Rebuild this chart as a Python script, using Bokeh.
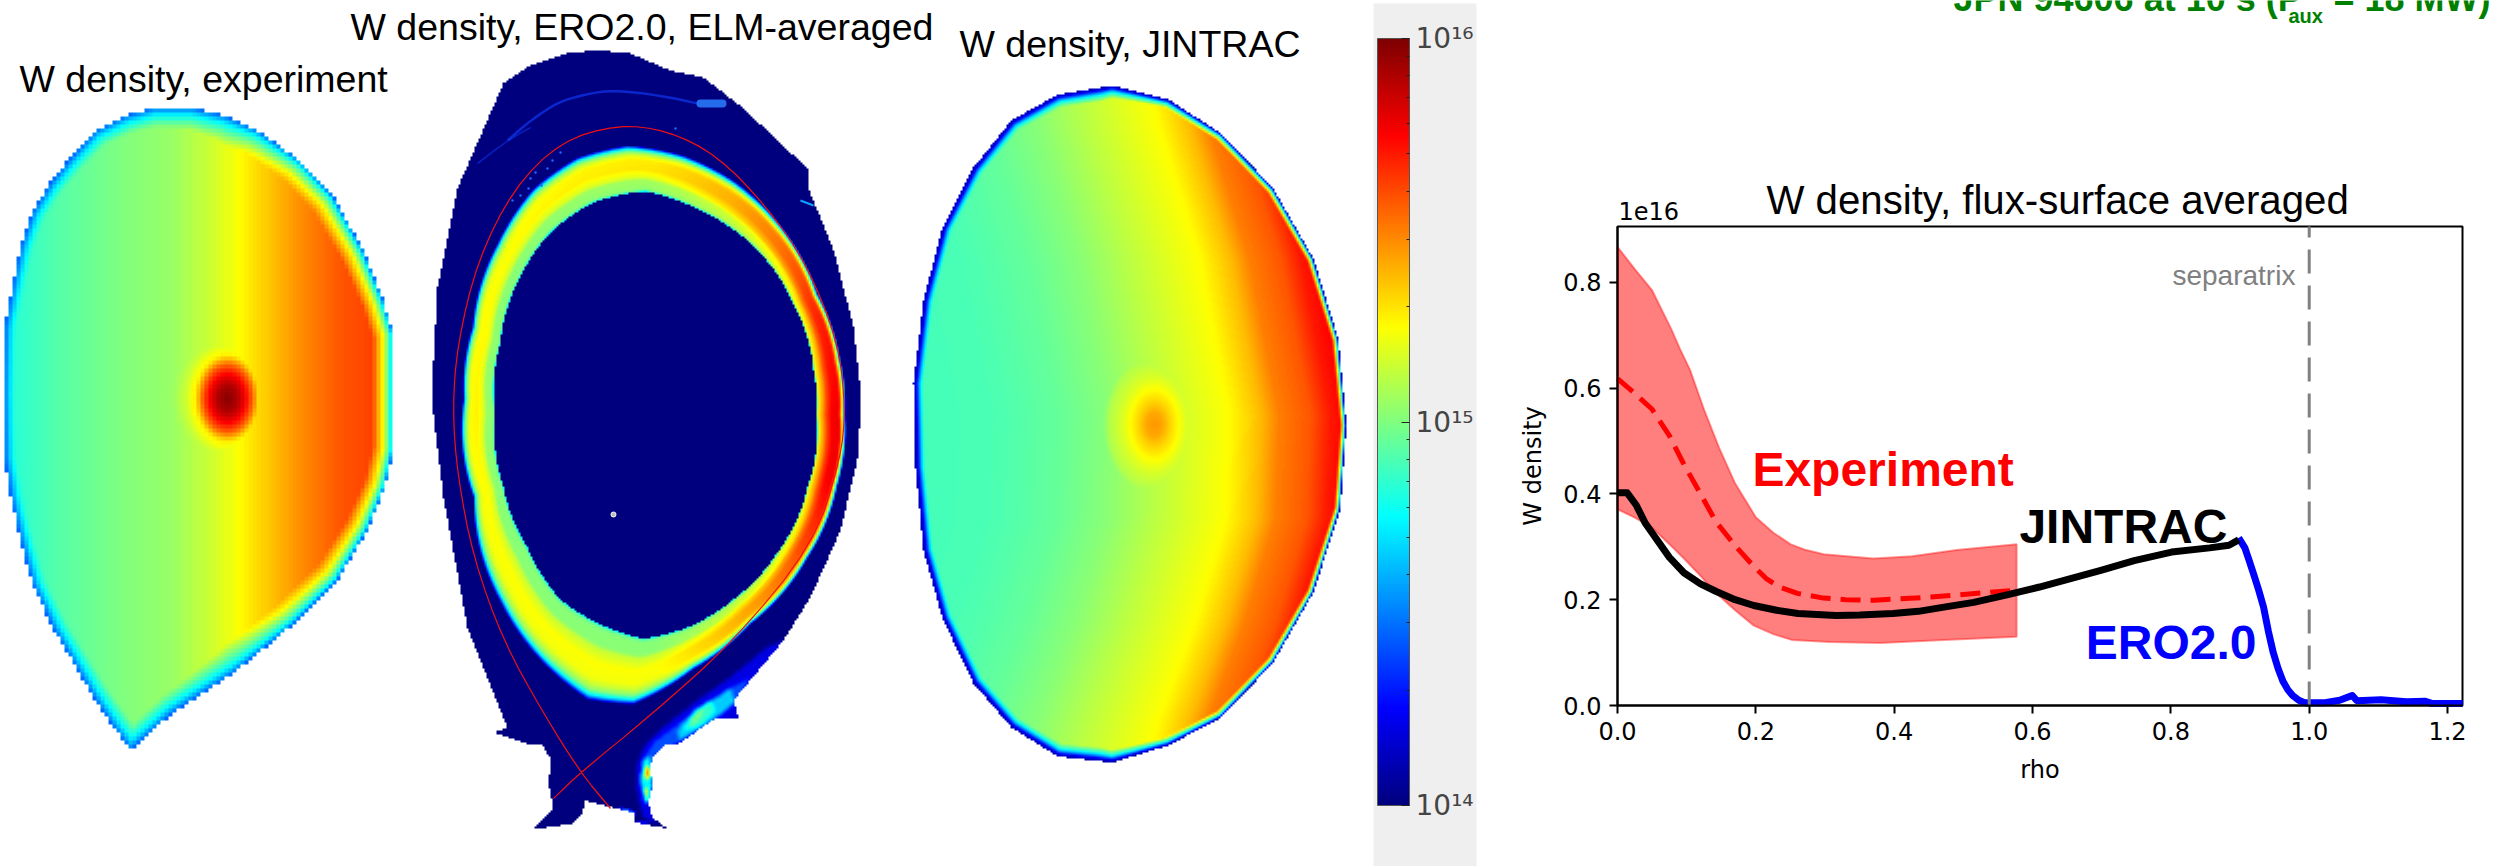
import numpy as np
from bokeh.embed import file_html
from bokeh.resources import INLINE
from bokeh.plotting import figure
from bokeh.layouts import row
from bokeh.core.properties import value
from bokeh.models import (Range1d, LinearColorMapper, LogColorMapper, ColorBar, FixedTicker,
                          NumeralTickFormatter)

# ---------- profile chart values (rho, density / 1e16) ----------
band_rho_up = [0.0, 0.025, 0.05, 0.078, 0.09, 0.105, 0.125, 0.147, 0.17, 0.2, 0.225, 0.25, 0.27, 0.298, 0.37, 0.426, 0.49, 0.577]
band_up = [0.867, 0.825, 0.785, 0.711, 0.675, 0.634, 0.56, 0.487, 0.42, 0.356, 0.327, 0.305, 0.295, 0.286, 0.278, 0.282, 0.294, 0.305]
band_rho_lo = [0.577, 0.472, 0.38, 0.307, 0.252, 0.225, 0.197, 0.17, 0.142, 0.12, 0.096, 0.075, 0.05, 0.025, 0.0]
band_lo = [0.13, 0.124, 0.118, 0.12, 0.124, 0.135, 0.151, 0.18, 0.213, 0.245, 0.278, 0.305, 0.336, 0.355, 0.371]
exp_rho = [0.0, 0.025, 0.05, 0.075, 0.096, 0.12, 0.142, 0.17, 0.197, 0.215, 0.234, 0.26, 0.298, 0.33, 0.371, 0.453, 0.577]
exp_mean = [0.618, 0.59, 0.56, 0.51, 0.456, 0.4, 0.348, 0.302, 0.263, 0.24, 0.224, 0.212, 0.203, 0.2, 0.199, 0.205, 0.218]
jin_rho = [0.0, 0.014, 0.027, 0.04, 0.055, 0.075, 0.096, 0.12, 0.142, 0.17, 0.197, 0.23, 0.261, 0.316, 0.35, 0.398, 0.435, 0.472, 0.515, 0.563, 0.61, 0.655, 0.70, 0.747, 0.801, 0.856, 0.884, 0.898]
jin_w = [0.402, 0.402, 0.379, 0.345, 0.317, 0.28, 0.251, 0.23, 0.216, 0.2, 0.189, 0.18, 0.174, 0.17, 0.171, 0.174, 0.178, 0.186, 0.195, 0.209, 0.224, 0.24, 0.256, 0.274, 0.29, 0.298, 0.303, 0.313]
ero_rho = [0.898, 0.907, 0.913, 0.92, 0.927, 0.934, 0.941, 0.948, 0.955, 0.962, 0.969, 0.976, 0.985, 0.994, 1.021, 1.044, 1.062, 1.069, 1.104, 1.14, 1.168, 1.177, 1.222]
ero_w = [0.317, 0.298, 0.275, 0.247, 0.218, 0.186, 0.14, 0.1, 0.07, 0.046, 0.03, 0.019, 0.01, 0.005, 0.005, 0.01, 0.019, 0.009, 0.011, 0.007, 0.008, 0.004, 0.004]
x_ticks = [0.0, 0.2, 0.4, 0.6, 0.8, 1.0, 1.2]
y_ticks = [0.0, 0.2, 0.4, 0.6, 0.8]

# ---------- colour scale ----------
jet_nodes = ["#00007f", "#0000ff", "#007fff", "#00ffff", "#7fff7f", "#ffff00", "#ff7f00", "#ff0000", "#7f0000"]
def hx(c): return [int(c[i:i+2], 16) for i in (1, 3, 5)]
_j = np.array([hx(c) for c in jet_nodes], float)
_u = np.linspace(0, 8, 256)
JET = ["#%02x%02x%02x" % tuple(int(round(np.interp(u, np.arange(9), _j[:, k]))) for k in range(3)) for u in _u]
cb_major = [1e14, 1e15, 1e16]
cb_minor = [a * 10 ** e for e in (14, 15) for a in range(2, 10)]

# ---------- experiment cross-section (picture px, log10 density) ----------
exp_outline = [(130,750),(113,727),(93,697),(73,663),(53,629),(32,584),(20,540),(10,496),(4,457),(3,393),(4,327),(12,285),(20,246),(32,211),(50,182),(70,157),(95,130),(125,115),(153,107),(192,107),(225,115),(258,130),(300,160),(333,196),(363,250),(383,300),(393,334),(393,449),(385,486),(367,530),(337,580),(293,624),(233,673),(173,712)]
exp_x = [0, 60, 120, 170, 210, 240, 260, 300, 340, 370, 395]
exp_v = [14.8, 14.92, 15.0, 15.05, 15.15, 15.25, 15.33, 15.47, 15.58, 15.62, 15.6]
exp_spot = (227, 398)
exp_spot_r = [0, 10, 18, 25, 32, 42, 55, 70]
exp_spot_v = [15.98, 15.9, 15.75, 15.55, 15.28, 15.15, 15.05, 14.95]
exp_edge_d = [0, 4, 8, 16, 30, 50, 70, 90]
exp_edge_v = [14.45, 14.6, 14.75, 14.95, 15.25, 15.5, 15.8, 16.0]

# ---------- JINTRAC cross-section ----------
jin_outline = [(1112,85),(1168,99),(1221,133),(1273,188),(1313,258),(1338,339),(1346,425),(1340,508),(1313,592),(1273,662),(1221,717),(1168,745),(1112,762),(1057,756),(1011,727),(973,683),(942,618),(923,550),(915,467),(913,383),(923,300),(942,227),(973,167),(1011,120),(1057,94)]
jin_x = [915, 1000, 1060, 1110, 1160, 1229, 1260, 1279, 1310, 1330, 1346, 1440]
jin_v = [14.88, 14.9, 14.95, 15.02, 15.12, 15.25, 15.38, 15.5, 15.58, 15.7, 15.75, 15.78]
jin_bow_y = [85, 128, 258, 415, 519, 623, 717, 762]
jin_bow = [80, 70, 30, 0, 4, 35, 70, 82]
jin_spot = (1154, 424)
jin_spot_r = [0, 8, 16, 24, 32, 45, 60]
jin_spot_v = [15.45, 15.42, 15.33, 15.25, 15.18, 15.1, 14.9]
jin_edge_d = [0, 3, 6, 9, 12, 16, 22, 30]
jin_edge_v = [14.08, 14.25, 14.6, 14.85, 15.0, 15.3, 15.6, 15.85]

# ---------- ERO2.0 cross-section ----------
ero_center = (655, 412)
ero_wall = [(503,83),(530,65),(570,52),(600,50),(630,53),(670,70),(703,77),(743,108),(807,168),(808,188),(833,249),(853,326),(861,398),(857,459),(840,530),(810,597),(783,640),(733,700),(738,717),(715,718),(677,744),(665,745),(652,757),(649,770),(653,782),(648,803),(652,817),(667,828),(635,822),(635,813),(585,800),(582,812),(573,823),(533,829),(553,809),(548,782),(551,760),(542,745),(527,743),(494,732),(507,727),(467,627),(443,497),(431,398),(437,287),(457,188)]
ero_hole = [(645,191),(700,210),(750,243),(793,304),(813,370),(816,414),(807,486),(777,552),(733,599),(687,627),(643,638),(600,624),(560,599),(527,547),(503,486),(495,414),(500,343),(520,276),(550,232),(593,202)]
ero_ring = [(627,145),(683,155),(733,180),(777,221),(817,293),(840,359),(845,414),(837,486),(807,558),(750,624),(693,669),(633,704),(587,699),(543,663),(500,602),(473,497),(463,398),(472,326),(497,243),(533,188),(577,157)]
ring_t = [0, .03, .08, .26, .32, .5, .7, .78, .86, .93, .97, 1.0]
ring_cold = [14.7, 14.95, 15.0, 15.0, 15.12, 15.22, 15.2, 15.12, 15.0, 14.72, 14.4, 14.05]
ring_hot = [14.8, 15.1, 15.3, 15.5, 15.6, 15.75, 15.78, 15.72, 15.3, 14.85, 14.5, 14.1]
ring_ang = [-180, -135, -90, -70, -50, -30, 0, 20, 40, 60, 90, 120, 150, 180]
ring_w = [.1, .05, .15, .35, .6, .85, 1, 1, .75, .45, .05, .05, .05, .1]
sep_line = [(553,798),(580,772),(650,715),(733,641),(813,544),(840,459),(845,409),(838,343),(807,265),(767,207),(717,155),(667,130),(617,124),(560,141),(513,188),(477,260),(457,343),(452,409),(457,475),(473,558),(503,641),(543,713),(580,772),(610,808)]
# divertor-leg layers, (log10 density, outline read on a 3x crop whose corner is at px (620, 640))
leg_layers = [
    (14.2, [(490,0),(440,20),(330,110),(230,180),(140,250),(75,310),(50,370),(45,430),(60,500),(70,530),(110,550),(110,320),(300,250),(360,230),(360,170),(500,0)]),
    (14.4, [(330,140),(240,200),(160,260),(100,305),(70,350),(60,420),(70,490),(90,480),(100,350),(170,312),(285,235),(345,190),(390,110)]),
    (14.65, [(330,140),(300,165),(225,205),(170,270),(180,300),(285,235),(345,185)]),
    (14.85, [(270,180),(215,225),(190,270),(240,255),(285,210)]),
    (15.0, [(250,200),(215,235),(205,255),(240,235)]),
    (14.75, [(68,360),(92,345),(90,420),(95,430),(85,490),(72,470),(60,420)]),
    (15.25, [(75,380),(88,375),(92,420),(75,415)]),
    (15.25, [(72,445),(85,440),(85,490),(78,480)]),
    (15.7, [(80,390),(90,390),(90,410),(84,410)]),
    (14.6, [(48,543),(80,545),(85,552),(50,552)]),
    (15.2, [(0,505),(45,518),(45,522),(0,512)]),
]
wisp = [(507,140),(530,120),(557,102),(580,95),(607,90),(637,92),(670,97),(697,103)]
wisp_low = [(477,163),(507,140),(530,127)]
wisp_hot = [(700,103),(722,103)]
wisp_right = [(800,200),(813,205)]
speck_x = [530, 535, 541, 547, 528, 520, 512, 552, 560, 675]
speck_y = [178, 172, 185, 168, 188, 195, 200, 160, 152, 128]
dot = (613, 514)

# ---------- helpers ----------
H = 866
def mesh(x0, x1, y0, y1, step):
    xs = np.arange(x0 + step / 2, x1, step)
    ys = np.arange(y0 + step / 2, y1, step)
    return np.meshgrid(xs, ys)
def inside(X, Y, poly):
    P = np.array(poly, float)
    Q = np.roll(P, -1, axis=0)
    res = np.zeros(X.shape, bool)
    for (a, b), (c, d) in zip(P, Q):
        if b == d:
            continue
        cond = ((b > Y) != (d > Y)) & (X < (c - a) * (Y - b) / (d - b) + a)
        res ^= cond
    return res
def edge_dist(X, Y, poly):
    P = np.array(poly, float)
    Q = np.roll(P, -1, axis=0)
    best = np.full(X.shape, 1e9)
    for (a, b), (c, d) in zip(P, Q):
        ex, ey = c - a, d - b
        t = np.clip(((X - a) * ex + (Y - b) * ey) / (ex * ex + ey * ey), 0, 1)
        best = np.minimum(best, np.hypot(X - a - t * ex, Y - b - t * ey))
    return best
def radial(poly, th):
    P = np.array(poly, float)
    a = np.arctan2(P[:, 1] - ero_center[1], P[:, 0] - ero_center[0])
    r = np.hypot(P[:, 0] - ero_center[0], P[:, 1] - ero_center[1])
    o = np.argsort(a)
    return np.interp(th, a[o], r[o], period=2 * np.pi)
def blur(A, n):
    k = np.ones(n) / n
    A = np.apply_along_axis(lambda m: np.convolve(m, k, mode="same"), 0, A)
    return np.apply_along_axis(lambda m: np.convolve(m, k, mode="same"), 1, A)
def rounded(pts, passes=2):
    # corner rounding of a hand-read outline, for display
    P = np.array(pts, float)
    for _ in range(passes):
        Q = 0.75 * P[:-1] + 0.25 * P[1:]
        R = 0.25 * P[:-1] + 0.75 * P[1:]
        M = np.empty((2 * len(Q), 2))
        M[0::2], M[1::2] = Q, R
        P = np.vstack([P[:1], M, P[-1:]])
    return P

# ---------- fields ----------
def field_exp():
    X, Y = mesh(0, 400, 100, 756, 4)
    v = np.interp(X, exp_x, exp_v)
    r = np.hypot(X - exp_spot[0], (Y - exp_spot[1]) / 1.35)
    v = np.maximum(v, np.interp(r, exp_spot_r, exp_spot_v, right=0))
    d = edge_dist(X, Y, exp_outline) * (1 + 2 * np.clip((X - 227) / 166, 0, 1))
    v = np.minimum(v, np.interp(d, exp_edge_d, exp_edge_v))
    v[~inside(X, Y, exp_outline)] = np.nan
    return v, (0, 400, 100, 756)
def field_jin():
    X, Y = mesh(906, 1352, 80, 768, 2)
    v = np.interp(X + np.interp(Y, jin_bow_y, jin_bow), jin_x, jin_v)
    r = np.hypot(X - jin_spot[0], (Y - jin_spot[1]) / 1.45)
    v = np.maximum(v, np.interp(r, jin_spot_r, jin_spot_v, right=0))
    d = edge_dist(X, Y, jin_outline) * (1 + 3 * np.clip((X - 1100) / 240, 0, 1))
    v = np.minimum(v, np.interp(d, jin_edge_d, jin_edge_v))
    v[~inside(X, Y, jin_outline)] = np.nan
    return v, (906, 1352, 80, 768)
def field_ero():
    box = (428, 864, 48, 832)
    X, Y = mesh(*box, 2)
    th = np.arctan2(Y - ero_center[1], X - ero_center[0])
    r = np.hypot(X - ero_center[0], Y - ero_center[1])
    rh, rr = radial(ero_hole, th), radial(ero_ring, th)
    t = (r - rh) / (rr - rh)
    w = np.interp(np.degrees(th), ring_ang, ring_w)
    v = (1 - w) * np.interp(t, ring_t, ring_cold) + w * np.interp(t, ring_t, ring_hot)
    v[(t < 0) | (t > 1)] = 14.0
    leg = np.full(X.shape, 14.0)
    for val, crop in leg_layers:
        poly = [(620 + a / 3, 640 + b / 3) for a, b in crop]
        leg[inside(X, Y, poly)] = val
    v = np.maximum(v, blur(leg, 3))
    v[~inside(X, Y, ero_wall)] = np.nan
    return v, box

# ---------- left figure: the panels ----------
left = figure(width=1500, height=H, x_range=Range1d(0, 1500), y_range=Range1d(0, H),
              toolbar_location=None, output_backend="svg", min_border=0)
left.frame_align = False
left.axis.visible = False
left.grid.visible = False
left.outline_line_color = None
mapper = LinearColorMapper(palette=JET, low=14, high=16, nan_color="#00000000")
left.quad(left=[1373], right=[1476], bottom=[0], top=[H - 3], color="#efefef", line_color=None)
for v, (x0, x1, y0, y1) in (field_exp(), field_ero(), field_jin()):
    left.image(image=[v[::-1]], x=x0, y=H - y1, dw=x1 - x0, dh=y1 - y0, color_mapper=mapper)
def line(pts, **kw):
    P = np.array(pts, float)
    left.line(P[:, 0], H - P[:, 1], **kw)
line(rounded(sep_line), line_color="#f01010", line_width=1.2)
line(rounded(wisp), line_color="#1040ff", line_width=2.5, line_alpha=0.6)
line(rounded(wisp_low), line_color="#1040ff", line_width=1.5, line_alpha=0.5)
line(wisp_hot, line_color="#2a7fff", line_width=8, line_alpha=0.85, line_cap="round")
line(wisp_right, line_color="#10a0ff", line_width=2)
left.scatter(speck_x, [H - y for y in speck_y], size=2.5, fill_color="#2060ff", line_color=None)
left.scatter([dot[0]], [H - dot[1]], size=5, fill_color="#bbbbbb", line_color="white", line_width=1)
panel_titles = ["W density, experiment", "W density, ERO2.0, ELM-averaged", "W density, JINTRAC"]
title_x = [19, 350, 959]
title_y = [78, 26, 43]
left.text(x=title_x, y=[H - y for y in title_y], text=panel_titles, text_font=value("Liberation Sans"),
          text_font_size=value("37.5px"), text_color="black", text_baseline="alphabetic")
log_mapper = LogColorMapper(palette=JET, low=1e14, high=1e16)
cb = ColorBar(color_mapper=log_mapper, location=(1377, H - 805), width=32, height=767, padding=0, margin=0,
              ticker=FixedTicker(ticks=cb_major, minor_ticks=cb_minor),
              major_label_overrides={1e14: "10\u00b9\u2074", 1e15: "10\u00b9\u2075", 1e16: "10\u00b9\u2076"},
              major_label_text_font="DejaVu Sans", major_label_text_font_size="28px", major_label_text_color="#444444",
              major_tick_in=8, minor_tick_in=3, major_tick_line_color="#222222", minor_tick_line_color="#222222",
              bar_line_color="#555555", bar_line_width=1, label_standoff=6, background_fill_alpha=0)
left.add_layout(cb, "center")

# ---------- right figure: flux-surface average ----------
# the frame fills the whole figure; the axes sit at rho = 0 and density = 0
XMAX, YMAX = 1.2216, 0.9055
U, V = XMAX / 845, YMAX / 479
PX0, PY0 = 1617, 705
right = figure(width=993, height=H, x_range=Range1d((1500 - PX0) * U, (2493 - PX0) * U),
               y_range=Range1d((PY0 - H) * V, PY0 * V),
               toolbar_location=None, output_backend="svg", min_border=0)
right.frame_align = False
right.grid.visible = False
right.outline_line_color = None
right.quad(left=[0], right=[XMAX], bottom=[0], top=[YMAX], fill_color=None, line_color="black", line_width=2)
for ax, ticks, lab, so, bnd in ((right.xaxis[0], x_ticks, "rho", 13, (0, XMAX)), (right.yaxis[0], y_ticks, "W density", 13, (0, YMAX))):
    ax.fixed_location = 0
    ax.bounds = bnd
    ax.ticker = FixedTicker(ticks=ticks)
    ax.formatter = NumeralTickFormatter(format="0.0")
    ax.major_tick_out = 8
    ax.major_tick_in = 0
    ax.minor_tick_out = 0
    ax.minor_tick_in = 0
    ax.major_tick_line_width = 2
    ax.axis_line_width = 2
    ax.major_label_text_font = "DejaVu Sans"
    ax.major_label_text_font_size = "24px"
    ax.major_label_text_color = "black"
    ax.major_label_standoff = 8
    ax.axis_label = lab
    ax.axis_label_text_font = "DejaVu Sans"
    ax.axis_label_text_font_size = "24px"
    ax.axis_label_text_font_style = "normal"
    ax.axis_label_text_color = "black"
    ax.axis_label_standoff = so

right.patch(band_rho_up + band_rho_lo, band_up + band_lo, fill_color="#ff0000", fill_alpha=0.5,
            line_color="#ff0000", line_alpha=0.4, line_width=2)
right.line(exp_rho, exp_mean, line_color="#ff0000", line_width=5, line_dash="20 10")
right.line(ero_rho, ero_w, line_color="#0000ff", line_width=7, line_join="round")
right.line(jin_rho, jin_w, line_color="black", line_width=7, line_join="round")
right.line([1.0, 1.0], [0, YMAX], line_color="#808080", line_width=3, line_dash="24 12")
right.text(x=[0.98], y=[0.813], text=["separatrix"], text_font=value("Liberation Sans"),
           text_font_size=value("28px"), text_color="#808080", text_align="right", text_baseline="middle")
right.text(x=[0.195, 0.581, 0.677], y=[0.446, 0.339, 0.119], text=["Experiment", "JINTRAC", "ERO2.0"],
           text_font=value("Liberation Sans"), text_font_style="bold", text_font_size=value("48px"),
           text_color=["#ff0000", "#000000", "#0000ff"], text_baseline="middle")
def fx(px): return (px - PX0) * U
def fy(py): return (PY0 - py) * V
right.text(x=[fx(1766)], y=[fy(200)], text=["W density, flux-surface averaged"], text_font=value("Liberation Sans"),
           text_font_size=value("40.2px"), text_color="black", text_baseline="middle")
right.text(x=[fx(1618)], y=[fy(210)], text=["1e16"], text_font=value("DejaVu Sans"),
           text_font_size=value("24px"), text_color="black", text_baseline="middle")
note_t = ["JPN 94606 at 10 s (P", "aux", "= 18 MW)"]
note_x = [fx(1953), fx(2288), fx(2333)]
note_y = [fy(-2), fy(15), fy(-2)]
note_s = ["36px", "20px", "36px"]
right.text(x=note_x, y=note_y, text=note_t, text_font=value("Liberation Sans"), text_font_style="bold",
           text_font_size=note_s, text_color="#008000", text_baseline="middle")

root = row(left, right, spacing=0)
open("out.html", "w").write(file_html(root, INLINE))
